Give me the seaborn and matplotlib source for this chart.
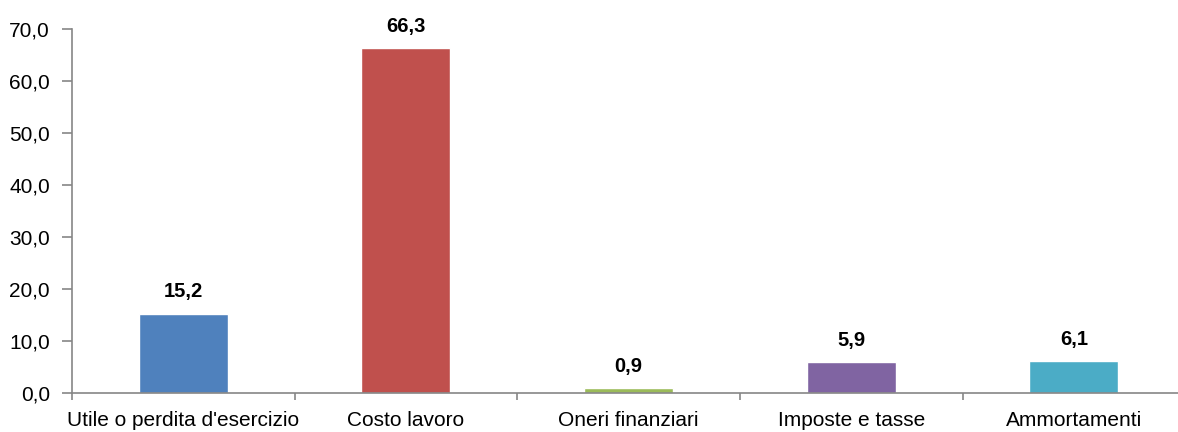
import pandas as pd
import matplotlib.pyplot as plt
import seaborn as sns
from matplotlib.ticker import FuncFormatter, FixedLocator

categories = ["Utile o perdita d'esercizio", "Costo lavoro", "Oneri finanziari",
              "Imposte e tasse", "Ammortamenti"]
values = [15.2, 66.3, 0.9, 5.9, 6.1]
colors = ["#4F81BD", "#C0504D", "#9BBB59", "#8064A2", "#4BACC6"]

df = pd.DataFrame({"categoria": categories, "valore": values})

sns.set_style("white")
plt.rcParams['font.family'] = ['Liberation Sans', 'DejaVu Sans']
plt.rcParams['text.color'] = 'black'
plt.rcParams['xtick.color'] = 'black'
plt.rcParams['ytick.color'] = 'black'

fig = plt.figure(figsize=(11.78, 4.32), dpi=100)
ax = fig.add_axes([0.0611, 0.0903, 0.945, 0.843])

sns.barplot(data=df, x="categoria", y="valore", hue="categoria",
            palette=colors, width=0.4, legend=False, ax=ax, saturation=1)

# Etichette dati
for i, v in enumerate(values):
    ax.annotate(f"{v:.1f}".replace(".", ","), (i, v), xytext=(0, 9),
                textcoords="offset points", ha="center", va="bottom",
                fontsize=14.5, fontweight="bold", color="black")

ax.set_ylim(0, 70)
ax.set_xlim(-0.5, 4.5)
ax.set_yticks(range(0, 71, 10))
ax.yaxis.set_major_formatter(FuncFormatter(lambda y, _: f"{y:.1f}".replace(".", ",")))
ax.set_xlabel("")
ax.set_ylabel("")

for s in ["top", "right"]:
    ax.spines[s].set_visible(False)
for s in ["left", "bottom"]:
    ax.spines[s].set_color("#868686")
    ax.spines[s].set_linewidth(1.2)

ax.tick_params(axis="y", which="major", length=7, width=1.2, color="#868686",
               labelcolor="black", labelsize=15, pad=9, left=True)
ax.tick_params(axis="x", which="major", length=0, labelsize=15, labelcolor="black", pad=13)
ax.xaxis.set_minor_locator(FixedLocator([-0.5, 0.5, 1.5, 2.5, 3.5, 4.5]))
ax.tick_params(axis="x", which="minor", length=5, width=1.2, color="#868686", bottom=True)

plt.savefig("out.png", dpi=100)
